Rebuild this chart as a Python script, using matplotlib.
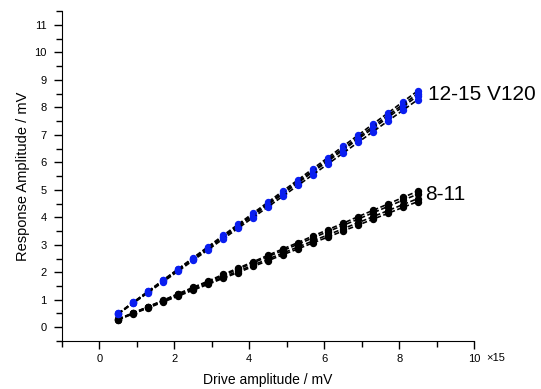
import matplotlib
matplotlib.use('Agg')
import matplotlib.pyplot as plt
from matplotlib.ticker import MultipleLocator

plt.rcParams['font.family'] = ['Liberation Sans', 'DejaVu Sans']

# drive amplitude (x1e-15)
drive = [0.5, 0.9, 1.3, 1.7, 2.1, 2.5, 2.9, 3.3, 3.7, 4.1, 4.5,
         4.9, 5.3, 5.7, 6.1, 6.5, 6.9, 7.3, 7.7, 8.1, 8.5]

# channels 12-15 (V120)
ch12 = [0.50, 0.91, 1.31, 1.72, 2.12, 2.53, 2.93, 3.34, 3.74, 4.15, 4.55,
        4.96, 5.36, 5.77, 6.17, 6.58, 6.98, 7.39, 7.79, 8.20, 8.60]
ch13 = [0.50, 0.90, 1.30, 1.70, 2.10, 2.50, 2.90, 3.30, 3.70, 4.10, 4.50,
        4.90, 5.30, 5.70, 6.10, 6.50, 6.90, 7.30, 7.70, 8.10, 8.50]
ch14 = [0.49, 0.89, 1.28, 1.68, 2.08, 2.47, 2.87, 3.27, 3.66, 4.06, 4.46,
        4.85, 5.25, 5.65, 6.04, 6.44, 6.84, 7.23, 7.63, 8.02, 8.42]
ch15 = [0.48, 0.87, 1.26, 1.65, 2.04, 2.43, 2.82, 3.21, 3.60, 3.99, 4.38,
        4.77, 5.16, 5.55, 5.94, 6.33, 6.72, 7.11, 7.50, 7.89, 8.28]

# channels 8-11
ch8 = [0.30, 0.52, 0.75, 0.98, 1.22, 1.45, 1.68, 1.92, 2.15, 2.38, 2.62,
       2.85, 3.08, 3.32, 3.55, 3.78, 4.02, 4.25, 4.48, 4.72, 4.95]
ch9 = [0.29, 0.52, 0.74, 0.97, 1.20, 1.43, 1.65, 1.88, 2.11, 2.34, 2.57,
       2.79, 3.02, 3.25, 3.48, 3.70, 3.93, 4.16, 4.39, 4.62, 4.84]
ch10 = [0.28, 0.50, 0.72, 0.94, 1.16, 1.38, 1.60, 1.82, 2.04, 2.26, 2.48,
        2.70, 2.92, 3.14, 3.36, 3.58, 3.80, 4.02, 4.24, 4.46, 4.68]
ch11 = [0.27, 0.49, 0.70, 0.92, 1.13, 1.35, 1.56, 1.78, 1.99, 2.21, 2.42,
        2.64, 2.85, 3.07, 3.28, 3.50, 3.71, 3.93, 4.14, 4.36, 4.57]

fig = plt.figure(figsize=(5.41, 3.89), dpi=100)
ax = fig.add_axes([0.1146, 0.1234, 0.7617, 0.8483])

#### 8-11 group, black markers
for y in [ch8, ch9, ch10, ch11]:
    ax.plot(drive, y, linestyle='--', color='k', lw=1.2, dashes=(3, 1.5),
            marker='o', ms=4.3, mfc='k', mec='k')

#### 12-15 group, blue markers
for y in [ch12, ch13, ch14, ch15]:
    ax.plot(drive, y, linestyle='--', color='k', lw=1.2, dashes=(3, 1.5),
            marker='o', ms=4.3, mfc='#0a1ef0', mec='#0a1ef0')

ax.text(8.77, 8.47, '12-15 V120', fontsize=15, va='center', ha='left')
ax.text(8.68, 4.84, '8-11', fontsize=15, va='center', ha='left')

ax.set_xlim(-1, 10)
ax.set_ylim(-0.5, 11.5)
ax.xaxis.set_major_locator(MultipleLocator(2))
ax.xaxis.set_minor_locator(MultipleLocator(1))
ax.yaxis.set_major_locator(MultipleLocator(1))
ax.yaxis.set_minor_locator(MultipleLocator(0.5))
ax.tick_params(which='major', length=6, width=1, labelsize=8, direction='out')
ax.tick_params(which='minor', length=4, width=1, direction='out')
ax.tick_params(axis='x', pad=3.5)
ax.tick_params(axis='y', pad=5)

for s in ['top', 'right']:
    ax.spines[s].set_visible(False)

# exponent label next to the last x tick
ax.annotate('\u00d715', xy=(10, 0), xycoords=('data', 'axes fraction'),
            xytext=(9, -12), textcoords='offset points',
            fontsize=8, ha='left', va='center')

ax.set_xlabel('Drive amplitude / mV', fontsize=10, labelpad=6)
ax.set_ylabel('Response Amplitude / mV', fontsize=10.5, labelpad=3)

plt.savefig('out.png', dpi=100)
